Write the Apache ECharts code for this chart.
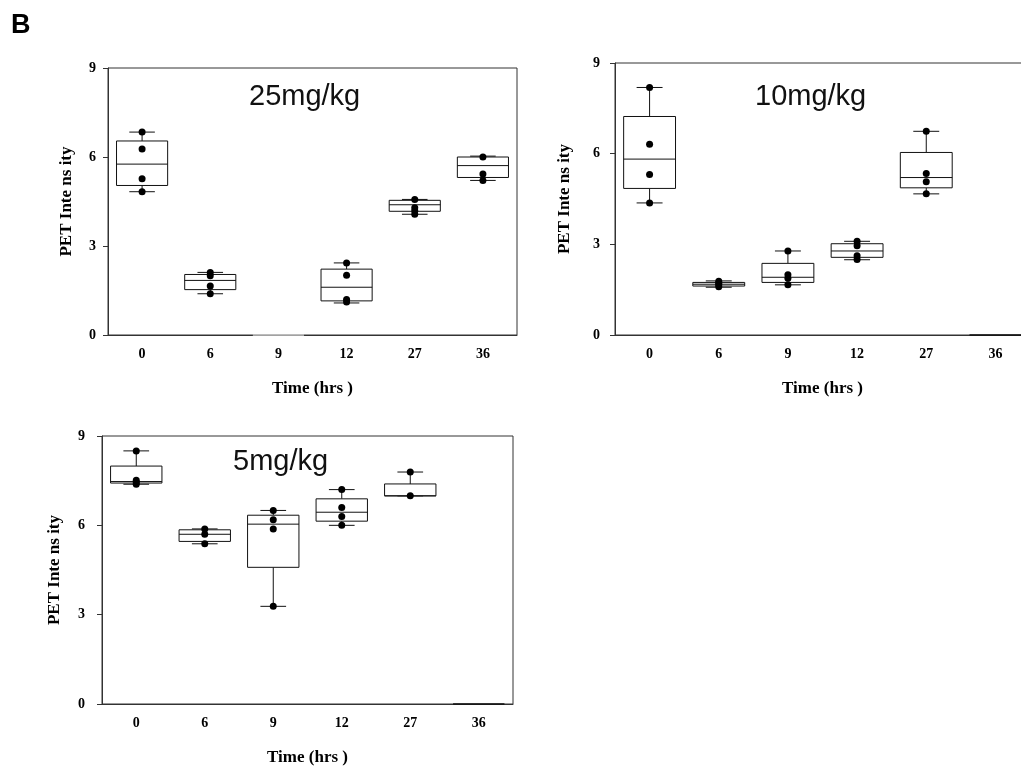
<!DOCTYPE html>
<html>
<head>
<meta charset="utf-8">
<script src="https://cdn.jsdelivr.net/npm/echarts@6/dist/echarts.min.js"></script>
<style>
html,body{margin:0;padding:0;background:#fff;}
#chart{width:1021px;height:774px;}
</style>
</head>
<body>
<div id="chart"></div>
<script>
// ---- Data ----
const timeLabels = ['0', '6', '9', '12', '27', '36'];
const yTicks = [0, 3, 6, 9];
const panelTitles = ['25mg/kg', '10mg/kg', '5mg/kg'];

// box stats per time point: [min, Q1, median, Q3, max]
const box25 = [
  [4.83, 5.04, 5.76, 6.54, 6.84],
  [1.39, 1.53, 1.84, 2.04, 2.11],
  [0, 0, 0, 0, 0],
  [1.08, 1.15, 1.61, 2.22, 2.43],
  [4.07, 4.17, 4.39, 4.54, 4.57],
  [5.21, 5.31, 5.71, 6.00, 6.03]
];
const box10 = [
  [4.37, 4.85, 5.82, 7.23, 8.19],
  [1.58, 1.62, 1.68, 1.74, 1.79],
  [1.66, 1.74, 1.91, 2.37, 2.78],
  [2.49, 2.57, 2.78, 3.02, 3.10],
  [4.67, 4.87, 5.21, 6.04, 6.74],
  [0, 0, 0, 0, 0]
];
const box5 = [
  [7.38, 7.42, 7.47, 7.99, 8.50],
  [5.38, 5.46, 5.70, 5.85, 5.88],
  [3.28, 4.59, 6.04, 6.34, 6.50],
  [6.00, 6.14, 6.44, 6.89, 7.20],
  [6.99, 6.99, 6.99, 7.39, 7.79],
  [0, 0, 0, 0, 0]
];

// individual points per time point
const pts25 = [
  [6.84, 6.27, 5.27, 4.83],
  [2.11, 2.00, 1.65, 1.39],
  [],
  [2.43, 2.01, 1.20, 1.11],
  [4.57, 4.29, 4.19, 4.07],
  [6.00, 5.43, 5.21]
];
const pts10 = [
  [8.19, 6.31, 5.31, 4.37],
  [1.78, 1.71, 1.66, 1.60],
  [2.78, 1.99, 1.88, 1.66],
  [3.10, 2.95, 2.62, 2.50],
  [6.74, 5.34, 5.07, 4.67],
  []
];
const pts5 = [
  [8.50, 7.51, 7.44, 7.38],
  [5.88, 5.70, 5.38],
  [6.50, 6.19, 5.88, 3.28],
  [7.20, 6.60, 6.30, 6.00],
  [7.79, 6.99],
  []
];

// ---- Layout / style ----
const boxes = [box25, box10, box5];
const points = [pts25, pts10, pts5];
const grids = [
  {left: 108, top: 68, width: 409, height: 267},
  {left: 615, top: 63, width: 415, height: 272},
  {left: 102, top: 436, width: 411, height: 268}
];
const yLabelMargin = [12, 15, 17];
const yNameGap = [33, 42, 39];
const emptyStroke = ['#c8c8c8', '#111', '#111'];
const titlePos = [
  {left: 249, top: 82},
  {left: 755, top: 82},
  {left: 233, top: 447}
];

const serif = '"Liberation Serif", "Times New Roman", serif';
const sans = '"Liberation Sans", Arial, sans-serif';

const option = {
  animation: false,
  backgroundColor: '#fff',
  title: panelTitles.map((t, i) => ({
    text: t, left: titlePos[i].left, top: titlePos[i].top, padding: 0,
    textStyle: {fontFamily: sans, fontSize: 29, fontWeight: 'normal', color: '#111'}
  })),
  graphic: [{
    type: 'text', left: 11, top: 12,
    style: {text: 'B', font: 'bold 27px ' + sans, fill: '#000'}
  }],
  grid: grids.map(g => Object.assign({
    show: true, borderColor: '#333', borderWidth: 1, backgroundColor: 'transparent',
    containLabel: false, outerBoundsMode: 'none'
  }, g)),
  xAxis: grids.map((g, i) => ({
    type: 'category', gridIndex: i, data: timeLabels, boundaryGap: true,
    axisLine: {lineStyle: {color: '#333', width: 1}},
    axisTick: {inside: true, length: 6, alignWithLabel: true, lineStyle: {color: '#333'}},
    axisLabel: {margin: 12, fontFamily: serif, fontWeight: 'bold', fontSize: 14, color: '#000'},
    name: 'Time (hrs )', nameLocation: 'middle', nameGap: 45,
    nameTextStyle: {fontFamily: serif, fontWeight: 'bold', fontSize: 17, color: '#000'},
    splitLine: {show: false}
  })),
  yAxis: grids.map((g, i) => ({
    type: 'value', gridIndex: i, min: yTicks[0], max: yTicks[yTicks.length - 1],
    interval: yTicks[1] - yTicks[0],
    axisLine: {show: true, lineStyle: {color: '#333', width: 1}},
    axisTick: {show: true, inside: false, length: 5, lineStyle: {color: '#333'}},
    axisLabel: {margin: yLabelMargin[i], fontFamily: serif, fontWeight: 'bold', fontSize: 14, color: '#000'},
    splitLine: {show: false},
    name: 'PET Inte ns ity', nameLocation: 'middle', nameGap: yNameGap[i], nameRotate: 90,
    nameTextStyle: {fontFamily: serif, fontWeight: 'bold', fontSize: 17, color: '#000'}
  })),
  series: []
};

boxes.forEach((bx, p) => {
  option.series.push({
    type: 'custom', xAxisIndex: p, yAxisIndex: p,
    data: bx.map((b, i) => [i].concat(b)),
    encode: {x: 0, y: [1, 2, 3, 4, 5]},
    clip: false,
    renderItem: function (params, api) {
      const x = api.value(0);
      const vmin = api.value(1), q1 = api.value(2), med = api.value(3), q3 = api.value(4), vmax = api.value(5);
      const band = api.size([1, 0])[0];
      const bw = band * 0.75;
      const cw = bw * 0.5;
      const c = api.coord([x, med]);
      const pMin = api.coord([x, vmin])[1];
      const pQ1 = api.coord([x, q1])[1];
      const pQ3 = api.coord([x, q3])[1];
      const pMax = api.coord([x, vmax])[1];
      const cx = c[0];
      const empty = vmax === 0 && vmin === 0;
      const stroke = empty ? emptyStroke[p] : '#111';
      const lw = empty ? 1.5 : 1;
      const ls = {stroke: stroke, lineWidth: lw, fill: null};
      const children = [];
      if (!empty) {
        children.push({type: 'line', shape: {x1: cx, y1: pMax, x2: cx, y2: pQ3}, style: ls});
        children.push({type: 'line', shape: {x1: cx, y1: pQ1, x2: cx, y2: pMin}, style: ls});
        children.push({type: 'line', shape: {x1: cx - cw / 2, y1: pMax, x2: cx + cw / 2, y2: pMax}, style: ls});
        children.push({type: 'line', shape: {x1: cx - cw / 2, y1: pMin, x2: cx + cw / 2, y2: pMin}, style: ls});
      }
      children.push({type: 'rect', shape: {x: cx - bw / 2, y: pQ3, width: bw, height: pQ1 - pQ3},
        style: {stroke: stroke, lineWidth: lw, fill: empty ? null : '#fff'}});
      if (!empty) {
        children.push({type: 'line', shape: {x1: cx - bw / 2, y1: c[1], x2: cx + bw / 2, y2: c[1]}, style: ls});
      }
      return {type: 'group', children: children};
    },
    z: 2
  });
  const sData = [];
  points[p].forEach((arr, i) => arr.forEach(v => sData.push([i, v])));
  option.series.push({
    type: 'scatter', xAxisIndex: p, yAxisIndex: p,
    data: sData, symbol: 'circle', symbolSize: 7,
    itemStyle: {color: '#000', opacity: 1}, z: 3
  });
});

const chart = echarts.init(document.getElementById('chart'), null, {renderer: 'canvas'});
chart.setOption(option);
</script>
</body>
</html>
